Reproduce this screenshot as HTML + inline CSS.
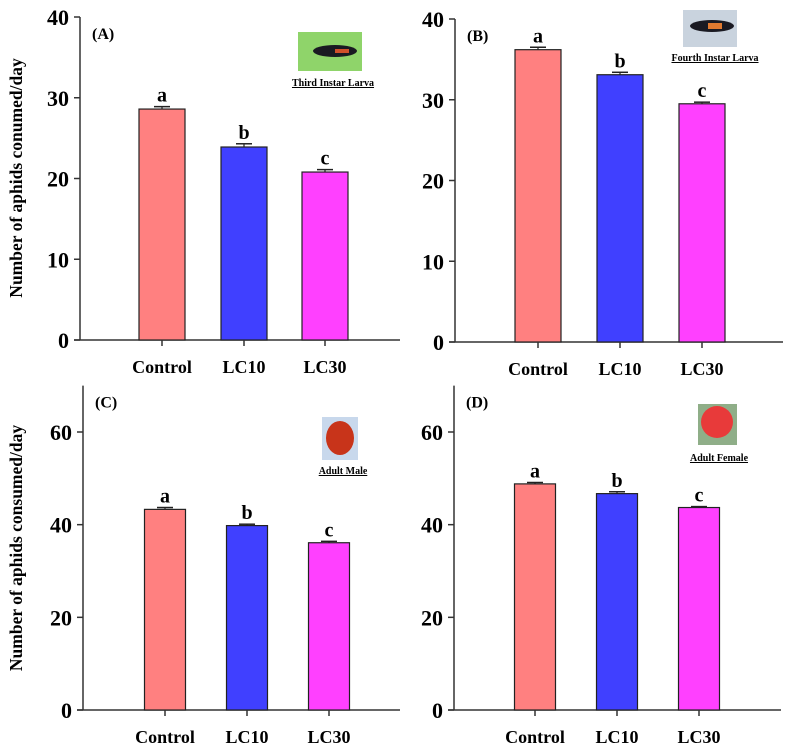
<!DOCTYPE html>
<html><head><meta charset="utf-8"><style>
body{margin:0;background:#fff;}
svg{display:block;font-family:"Liberation Serif",serif;font-weight:bold;}
</style></head><body>
<svg id="fig" width="795" height="753" viewBox="0 0 795 753" xmlns="http://www.w3.org/2000/svg">
<text transform="translate(22,178) rotate(-90)" text-anchor="middle" font-size="17.5">Number of aphids conumed/day</text>
<text transform="translate(22,548) rotate(-90)" text-anchor="middle" font-size="17.5">Number of aphids consumed/day</text>
<g>
<rect x="298" y="32" width="64" height="39" fill="#8fd46a"/>
<ellipse cx="335" cy="51" rx="22" ry="6" fill="#1a1a22"/><rect x="335" y="49" width="14" height="4" fill="#d0502a"/>
</g>
<text x="333" y="86" text-anchor="middle" font-size="10" text-decoration="underline">Third Instar Larva</text>
<g>
<rect x="683" y="10" width="54" height="37" fill="#c9d3de"/>
<ellipse cx="712" cy="26" rx="22" ry="6" fill="#1a1a22"/><rect x="708" y="23" width="14" height="6" fill="#e07a30"/>
</g>
<text x="715" y="61" text-anchor="middle" font-size="10" text-decoration="underline">Fourth Instar Larva</text>
<g>
<rect x="322" y="417" width="36" height="43" fill="#c8d8ec"/>
<ellipse cx="340" cy="438" rx="14" ry="17" fill="#c8341a"/>
</g>
<text x="343" y="474" text-anchor="middle" font-size="10" text-decoration="underline">Adult Male</text>
<g>
<rect x="698" y="404" width="39" height="41" fill="#8fae88"/>
<circle cx="717" cy="422" r="16" fill="#e83a3a"/>
</g>
<text x="719" y="461" text-anchor="middle" font-size="10" text-decoration="underline">Adult Female</text>
</svg>
<script>
const categories = ["Control","LC10","LC30"];
const valuesA = [28.6, 23.9, 20.8];
const errorsA = [0.3, 0.4, 0.3];
const valuesB = [36.2, 33.1, 29.5];
const errorsB = [0.3, 0.3, 0.2];
const valuesC = [43.3, 39.8, 36.1];
const errorsC = [0.4, 0.3, 0.3];
const valuesD = [48.8, 46.7, 43.7];
const errorsD = [0.3, 0.4, 0.2];
const lettersAll = ["a","b","c"];
const ticksTop = [0,10,20,30,40];
const ticksBottom = [0,20,40,60];
const colors = ["#ff8080","#4040ff","#ff40ff"];
const NS = "http://www.w3.org/2000/svg";
const svg = document.getElementById('fig');
function mk(tag, attrs, parent){const e=document.createElementNS(NS,tag);for(const k in attrs)e.setAttribute(k,attrs[k]);(parent||svg).appendChild(e);return e;}
function panel(id, ax, y0, yTopPix, ymaxAxis, tickMaxVal, tickMaxPix, ticks, vals, errs, xEnd, centers, bw, panelLabel){
  const g = mk('g',{});
  
  
  const ys = v => y0 - v*(y0 - tickMaxPix)/tickMaxVal;
  const ya = mk('line',{x1:ax,y1:ys(ymaxAxis),x2:ax,y2:y0,stroke:'#333','stroke-width':1.5},g);
  
  
  const xa = mk('line',{x1:ax-6,y1:y0,x2:xEnd,y2:y0,stroke:'#333','stroke-width':1.5},g);
  
  
  ticks.forEach(t=>{
    mk('line',{x1:ax-6,y1:ys(t),x2:ax,y2:ys(t),stroke:'#333','stroke-width':1.5},g);
    const tx = mk('text',{x:ax-11,y:ys(t)+8,'text-anchor':'end','font-size':22},g);
    tx.textContent=t;
    
    
  });
  const pl = mk('text',{x:ax+12,y:ys(ymaxAxis)+22,'font-size':16},g);
  pl.textContent = panelLabel;
  
  
  vals.forEach((v,i)=>{
    const cx = centers[i];
    const r = mk('rect',{x:cx-bw/2,y:ys(v),width:bw,height:y0-ys(v),fill:colors[i],stroke:'#222','stroke-width':1.2},g);
    
    
    const ye = ys(v+errs[i]);
    mk('line',{x1:cx,y1:ye,x2:cx,y2:ys(v),stroke:'#222','stroke-width':1.2},g);
    const eb = mk('line',{x1:cx-8,y1:ye,x2:cx+8,y2:ye,stroke:'#222','stroke-width':1.5},g);
    
    
    mk('line',{x1:cx,y1:y0,x2:cx,y2:y0+6,stroke:'#333','stroke-width':1.5},g);
    const lt = mk('text',{x:cx,y:ye-5,'text-anchor':'middle','font-size':20},g);
    lt.textContent = lettersAll[i];
    
    
    const cl = mk('text',{x:cx,y:y0+33,'text-anchor':'middle','font-size':18},g);
    cl.textContent = categories[i];
    
    
  });
}
panel('a',80,340,0,40,40,17,ticksTop,valuesA,errorsA,400,[162,244,325],46,'(A)');
panel('b',455,342,0,40,40,19,ticksTop,valuesB,errorsB,783,[538,620,702],46,'(B)');
panel('c',83,710,0,70,60,432,ticksBottom,valuesC,errorsC,400,[165,247,329],41,'(C)');
panel('d',454,710,0,70,60,432,ticksBottom,valuesD,errorsD,781,[535,617,699],41,'(D)');
</script>
</body></html>
